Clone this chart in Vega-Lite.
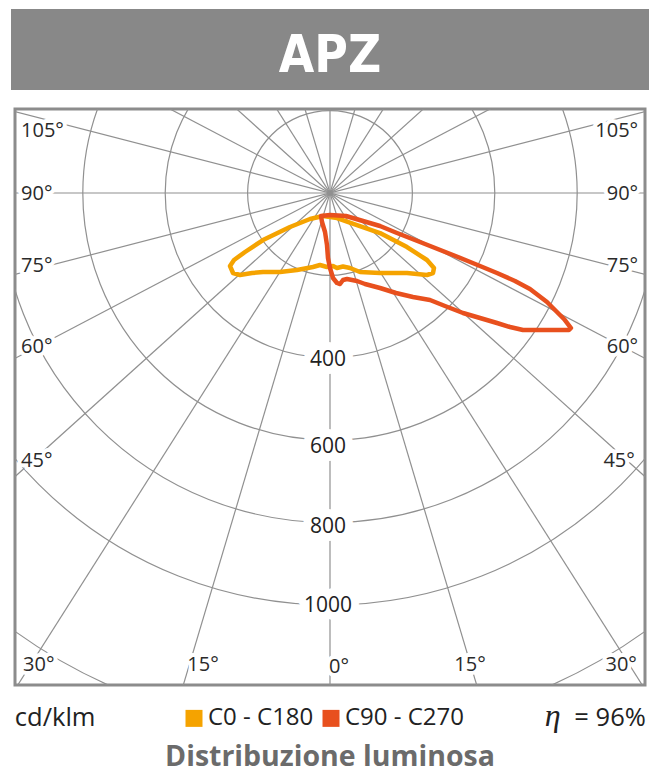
{
  "$schema": "https://vega.github.io/schema/vega-lite/v6.json",
  "background": "white",
  "padding": {"left": 11, "top": 9, "right": 0, "bottom": 0},
  "spacing": 19,
  "bounds": "flush",
  "center": true,
  "config": {"view": {"stroke": null}, "font": "Open Sans"},
  "resolve": {"scale": {"x": "independent", "y": "independent"}},
  "datasets": {
    "circles": [{"r": 200}, {"r": 400}, {"r": 600}, {"r": 800}, {"r": 1000}, {"r": 1310}],
    "rays": [
      {"x": 0, "y": -1500, "x2": 0, "y2": 1500},
      {"x": -1500, "y": 0, "x2": 1500, "y2": 0},
      {"x": 428.6, "y": -1437.5, "x2": -428.6, "y2": 1437.5},
      {"x": -428.6, "y": -1437.5, "x2": 428.6, "y2": 1437.5},
      {"x": 803.7, "y": -1266.5, "x2": -803.7, "y2": 1266.5},
      {"x": -803.7, "y": -1266.5, "x2": 803.7, "y2": 1266.5},
      {"x": 1114.7, "y": -1003.7, "x2": -1114.7, "y2": 1003.7},
      {"x": -1114.7, "y": -1003.7, "x2": 1114.7, "y2": 1003.7},
      {"x": 1328.1, "y": -697.2, "x2": -1328.1, "y2": 697.2},
      {"x": -1328.1, "y": -697.2, "x2": 1328.1, "y2": 697.2},
      {"x": 1452.2, "y": -375.6, "x2": -1452.2, "y2": 375.6},
      {"x": -1452.2, "y": -375.6, "x2": 1452.2, "y2": 375.6}
    ],
    "leftLabels": [
      {"label": "105°", "x": -750, "y": 149.3},
      {"label": "90°", "x": -750, "y": -3.6},
      {"label": "75°", "x": -750, "y": -176.0},
      {"label": "60°", "x": -750, "y": -372.6},
      {"label": "45°", "x": -750, "y": -649.3},
      {"label": "30°", "x": -745, "y": -1144.5}
    ],
    "rightLabels": [
      {"label": "105°", "x": 748, "y": 150.5},
      {"label": "90°", "x": 748, "y": -3.6},
      {"label": "75°", "x": 748, "y": -177.2},
      {"label": "60°", "x": 748, "y": -374.9},
      {"label": "45°", "x": 740, "y": -649.3},
      {"label": "30°", "x": 745, "y": -1144.5}
    ],
    "bottomLabels": [
      {"label": "15°", "x": -308.3, "y": -1144.5},
      {"label": "0°", "x": 21.8, "y": -1151.7},
      {"label": "15°", "x": 339.8, "y": -1144.5}
    ],
    "radiusLabels": [
      {"label": "400", "x": -4.9, "y": -405.3},
      {"label": "600", "x": -4.9, "y": -616.5},
      {"label": "800", "x": -4.9, "y": -810.7},
      {"label": "1000", "x": -4.9, "y": -1002.5}
    ],
    "curves": [
      {"series": "C0 - C180", "i": 0, "x": -17.0, "y": -55.8},
      {"series": "C0 - C180", "i": 1, "x": -48.5, "y": -63.1},
      {"series": "C0 - C180", "i": 2, "x": -97.1, "y": -82.5},
      {"series": "C0 - C180", "i": 3, "x": -162.6, "y": -114.1},
      {"series": "C0 - C180", "i": 4, "x": -206.3, "y": -143.2},
      {"series": "C0 - C180", "i": 5, "x": -233.0, "y": -162.6},
      {"series": "C0 - C180", "i": 6, "x": -242.7, "y": -177.2},
      {"series": "C0 - C180", "i": 7, "x": -235.4, "y": -194.2},
      {"series": "C0 - C180", "i": 8, "x": -218.4, "y": -199.0},
      {"series": "C0 - C180", "i": 9, "x": -189.3, "y": -194.2},
      {"series": "C0 - C180", "i": 10, "x": -162.6, "y": -191.7},
      {"series": "C0 - C180", "i": 11, "x": -121.4, "y": -191.7},
      {"series": "C0 - C180", "i": 12, "x": -80.1, "y": -186.9},
      {"series": "C0 - C180", "i": 13, "x": -41.3, "y": -179.6},
      {"series": "C0 - C180", "i": 14, "x": -24.3, "y": -174.8},
      {"series": "C0 - C180", "i": 15, "x": -7.3, "y": -179.6},
      {"series": "C0 - C180", "i": 16, "x": 7.3, "y": -177.2},
      {"series": "C0 - C180", "i": 17, "x": 17.0, "y": -182.0},
      {"series": "C0 - C180", "i": 18, "x": 31.6, "y": -178.4},
      {"series": "C0 - C180", "i": 19, "x": 48.5, "y": -182.0},
      {"series": "C0 - C180", "i": 20, "x": 72.8, "y": -191.7},
      {"series": "C0 - C180", "i": 21, "x": 121.4, "y": -194.2},
      {"series": "C0 - C180", "i": 22, "x": 186.9, "y": -194.2},
      {"series": "C0 - C180", "i": 23, "x": 235.4, "y": -199.0},
      {"series": "C0 - C180", "i": 24, "x": 250.0, "y": -194.2},
      {"series": "C0 - C180", "i": 25, "x": 252.4, "y": -182.0},
      {"series": "C0 - C180", "i": 26, "x": 235.4, "y": -162.6},
      {"series": "C0 - C180", "i": 27, "x": 186.9, "y": -131.1},
      {"series": "C0 - C180", "i": 28, "x": 121.4, "y": -97.1},
      {"series": "C0 - C180", "i": 29, "x": 65.5, "y": -77.7},
      {"series": "C0 - C180", "i": 30, "x": 17.0, "y": -60.7},
      {"series": "C0 - C180", "i": 31, "x": -17.0, "y": -55.8},
      {"series": "C90 - C270", "i": 0, "x": -21.8, "y": -55.8},
      {"series": "C90 - C270", "i": 1, "x": 0, "y": -53.4},
      {"series": "C90 - C270", "i": 2, "x": 38.8, "y": -55.8},
      {"series": "C90 - C270", "i": 3, "x": 80.1, "y": -68.0},
      {"series": "C90 - C270", "i": 4, "x": 121.4, "y": -80.1},
      {"series": "C90 - C270", "i": 5, "x": 162.6, "y": -97.1},
      {"series": "C90 - C270", "i": 6, "x": 218.4, "y": -118.9},
      {"series": "C90 - C270", "i": 7, "x": 298.5, "y": -150.5},
      {"series": "C90 - C270", "i": 8, "x": 364.1, "y": -177.2},
      {"series": "C90 - C270", "i": 9, "x": 405.3, "y": -194.2},
      {"series": "C90 - C270", "i": 10, "x": 449.0, "y": -213.6},
      {"series": "C90 - C270", "i": 11, "x": 485.4, "y": -233.0},
      {"series": "C90 - C270", "i": 12, "x": 526.7, "y": -264.6},
      {"series": "C90 - C270", "i": 13, "x": 548.5, "y": -286.4},
      {"series": "C90 - C270", "i": 14, "x": 567.9, "y": -305.8},
      {"series": "C90 - C270", "i": 15, "x": 584.9, "y": -327.7},
      {"series": "C90 - C270", "i": 16, "x": 580.1, "y": -332.5},
      {"series": "C90 - C270", "i": 17, "x": 526.7, "y": -332.5},
      {"series": "C90 - C270", "i": 18, "x": 468.4, "y": -332.5},
      {"series": "C90 - C270", "i": 19, "x": 436.9, "y": -325.2},
      {"series": "C90 - C270", "i": 20, "x": 405.3, "y": -315.5},
      {"series": "C90 - C270", "i": 21, "x": 364.1, "y": -303.4},
      {"series": "C90 - C270", "i": 22, "x": 322.8, "y": -291.2},
      {"series": "C90 - C270", "i": 23, "x": 279.1, "y": -274.3},
      {"series": "C90 - C270", "i": 24, "x": 242.7, "y": -259.7},
      {"series": "C90 - C270", "i": 25, "x": 201.4, "y": -252.4},
      {"series": "C90 - C270", "i": 26, "x": 160.2, "y": -242.7},
      {"series": "C90 - C270", "i": 27, "x": 121.4, "y": -230.6},
      {"series": "C90 - C270", "i": 28, "x": 84.9, "y": -220.9},
      {"series": "C90 - C270", "i": 29, "x": 65.5, "y": -213.6},
      {"series": "C90 - C270", "i": 30, "x": 41.3, "y": -208.7},
      {"series": "C90 - C270", "i": 31, "x": 31.6, "y": -211.2},
      {"series": "C90 - C270", "i": 32, "x": 24.3, "y": -220.9},
      {"series": "C90 - C270", "i": 33, "x": 17.0, "y": -218.4},
      {"series": "C90 - C270", "i": 34, "x": 7.3, "y": -206.3},
      {"series": "C90 - C270", "i": 35, "x": 0, "y": -182.0},
      {"series": "C90 - C270", "i": 36, "x": -4.9, "y": -157.8},
      {"series": "C90 - C270", "i": 37, "x": -7.3, "y": -126.2},
      {"series": "C90 - C270", "i": 38, "x": -12.1, "y": -94.7},
      {"series": "C90 - C270", "i": 39, "x": -19.4, "y": -70.4},
      {"series": "C90 - C270", "i": 40, "x": -21.8, "y": -55.8}
    ]
  },
  "vconcat": [
    {
      "width": 638,
      "height": 81,
      "view": {"fill": "#888888", "stroke": null},
      "data": {"values": [{"title": "APZ"}]},
      "mark": {"type": "text", "font": "DejaVu Sans Condensed", "fontWeight": "bold", "fontSize": 51, "color": "white", "baseline": "alphabetic", "align": "center"},
      "encoding": {
        "text": {"field": "title"},
        "x": {"datum": 0.5, "type": "quantitative", "scale": {"domain": [0, 1]}, "axis": null},
        "y": {"datum": 0.778, "type": "quantitative", "scale": {"domain": [0, 1], "reverse": true}, "axis": null}
      }
    },
    {
      "width": 630,
      "height": 576,
      "view": {"stroke": "#8c8c8c", "strokeWidth": 3},
      "layer": [
        {
          "data": {"name": "circles"},
          "mark": {"type": "arc", "theta": 0, "theta2": 6.2832, "filled": false, "stroke": "#909090", "strokeWidth": 1.2, "clip": true},
          "encoding": {
            "x": {"datum": 0, "type": "quantitative", "scale": {"domain": [-764.6, 764.6], "nice": false, "zero": false}, "axis": null},
            "y": {"datum": 0, "type": "quantitative", "scale": {"domain": [-1194.2, 203.9], "nice": false, "zero": false}, "axis": null},
            "radius": {"field": "r", "type": "quantitative", "stack": null, "scale": {"type": "linear", "domain": [0, 1000], "range": [0, 411.98], "zero": true}, "legend": null}
          }
        },
        {
          "data": {"name": "rays"},
          "mark": {"type": "rule", "stroke": "#909090", "strokeWidth": 1.2, "clip": true},
          "encoding": {
            "x": {"field": "x", "type": "quantitative", "scale": {"domain": [-764.6, 764.6], "nice": false, "zero": false}, "axis": null},
            "y": {"field": "y", "type": "quantitative", "scale": {"domain": [-1194.2, 203.9], "nice": false, "zero": false}, "axis": null},
            "x2": {"field": "x2"},
            "y2": {"field": "y2"}
          }
        },
        {
          "data": {"name": "leftLabels"},
          "mark": {"type": "text", "align": "left", "baseline": "middle", "fontSize": 20, "fill": "white", "stroke": "white", "strokeWidth": 8, "strokeJoin": "round"},
          "encoding": {
            "text": {"field": "label"},
            "x": {"field": "x", "type": "quantitative", "scale": {"domain": [-764.6, 764.6], "nice": false, "zero": false}, "axis": null},
            "y": {"field": "y", "type": "quantitative", "scale": {"domain": [-1194.2, 203.9], "nice": false, "zero": false}, "axis": null}
          }
        },
        {
          "data": {"name": "leftLabels"},
          "mark": {"type": "text", "align": "left", "baseline": "middle", "fontSize": 20, "fill": "#2a2a2a"},
          "encoding": {
            "text": {"field": "label"},
            "x": {"field": "x", "type": "quantitative", "scale": {"domain": [-764.6, 764.6], "nice": false, "zero": false}, "axis": null},
            "y": {"field": "y", "type": "quantitative", "scale": {"domain": [-1194.2, 203.9], "nice": false, "zero": false}, "axis": null}
          }
        },
        {
          "data": {"name": "rightLabels"},
          "mark": {"type": "text", "align": "right", "baseline": "middle", "fontSize": 20, "fill": "white", "stroke": "white", "strokeWidth": 8, "strokeJoin": "round"},
          "encoding": {
            "text": {"field": "label"},
            "x": {"field": "x", "type": "quantitative", "scale": {"domain": [-764.6, 764.6], "nice": false, "zero": false}, "axis": null},
            "y": {"field": "y", "type": "quantitative", "scale": {"domain": [-1194.2, 203.9], "nice": false, "zero": false}, "axis": null}
          }
        },
        {
          "data": {"name": "rightLabels"},
          "mark": {"type": "text", "align": "right", "baseline": "middle", "fontSize": 20, "fill": "#2a2a2a"},
          "encoding": {
            "text": {"field": "label"},
            "x": {"field": "x", "type": "quantitative", "scale": {"domain": [-764.6, 764.6], "nice": false, "zero": false}, "axis": null},
            "y": {"field": "y", "type": "quantitative", "scale": {"domain": [-1194.2, 203.9], "nice": false, "zero": false}, "axis": null}
          }
        },
        {
          "data": {"name": "bottomLabels"},
          "mark": {"type": "text", "align": "center", "baseline": "middle", "fontSize": 20, "fill": "white", "stroke": "white", "strokeWidth": 8, "strokeJoin": "round"},
          "encoding": {
            "text": {"field": "label"},
            "x": {"field": "x", "type": "quantitative", "scale": {"domain": [-764.6, 764.6], "nice": false, "zero": false}, "axis": null},
            "y": {"field": "y", "type": "quantitative", "scale": {"domain": [-1194.2, 203.9], "nice": false, "zero": false}, "axis": null}
          }
        },
        {
          "data": {"name": "bottomLabels"},
          "mark": {"type": "text", "align": "center", "baseline": "middle", "fontSize": 20, "fill": "#2a2a2a"},
          "encoding": {
            "text": {"field": "label"},
            "x": {"field": "x", "type": "quantitative", "scale": {"domain": [-764.6, 764.6], "nice": false, "zero": false}, "axis": null},
            "y": {"field": "y", "type": "quantitative", "scale": {"domain": [-1194.2, 203.9], "nice": false, "zero": false}, "axis": null}
          }
        },
        {
          "data": {"name": "radiusLabels"},
          "mark": {"type": "text", "align": "center", "baseline": "middle", "fontSize": 21, "fill": "white", "stroke": "white", "strokeWidth": 16, "strokeJoin": "round"},
          "encoding": {
            "text": {"field": "label"},
            "x": {"field": "x", "type": "quantitative", "scale": {"domain": [-764.6, 764.6], "nice": false, "zero": false}, "axis": null},
            "y": {"field": "y", "type": "quantitative", "scale": {"domain": [-1194.2, 203.9], "nice": false, "zero": false}, "axis": null}
          }
        },
        {
          "data": {"name": "radiusLabels"},
          "mark": {"type": "text", "align": "center", "baseline": "middle", "fontSize": 21, "fill": "#222222"},
          "encoding": {
            "text": {"field": "label"},
            "x": {"field": "x", "type": "quantitative", "scale": {"domain": [-764.6, 764.6], "nice": false, "zero": false}, "axis": null},
            "y": {"field": "y", "type": "quantitative", "scale": {"domain": [-1194.2, 203.9], "nice": false, "zero": false}, "axis": null}
          }
        },
        {
          "data": {"name": "curves"},
          "mark": {"type": "line", "strokeWidth": 4.5, "strokeJoin": "round", "strokeCap": "round", "clip": true},
          "encoding": {
            "x": {"field": "x", "type": "quantitative", "scale": {"domain": [-764.6, 764.6], "nice": false, "zero": false}, "axis": null},
            "y": {"field": "y", "type": "quantitative", "scale": {"domain": [-1194.2, 203.9], "nice": false, "zero": false}, "axis": null},
            "order": {"field": "i", "type": "quantitative"},
            "color": {
              "field": "series",
              "type": "nominal",
              "scale": {"domain": ["C0 - C180", "C90 - C270"], "range": ["#F5A300", "#E8501E"]},
              "legend": {
                "orient": "none",
                "legendX": 171,
                "legendY": 697,
                "direction": "horizontal",
                "title": null,
                "symbolType": "square",
                "symbolSize": 72.25,
                "symbolStrokeWidth": 8.5,
                "symbolOpacity": 1,
                "labelFont": "Open Sans",
                "labelFontSize": 24,
                "labelColor": "#222222",
                "labelOffset": 2,
                "columnPadding": -5,
                "padding": 0
              }
            }
          }
        }
      ]
    },
    {
      "width": 638,
      "height": 70,
      "layer": [
        {
          "data": {"values": [{"t": "cd/klm"}]},
          "mark": {"type": "text", "align": "left", "baseline": "alphabetic", "fontSize": 25.5, "font": "Open Sans", "color": "#222222"},
          "encoding": {
            "text": {"field": "t"},
            "x": {"datum": 0.006, "type": "quantitative", "scale": {"domain": [0, 1]}, "axis": null},
            "y": {"datum": 0.314, "type": "quantitative", "scale": {"domain": [0, 1], "reverse": true}, "axis": null}
          }
        },
        {
          "data": {"values": [{"t": "η"}]},
          "mark": {"type": "text", "align": "center", "baseline": "alphabetic", "fontSize": 32, "font": "Liberation Serif", "fontStyle": "italic", "color": "#222222"},
          "encoding": {
            "text": {"field": "t"},
            "x": {"datum": 0.849, "type": "quantitative", "scale": {"domain": [0, 1]}, "axis": null},
            "y": {"datum": 0.314, "type": "quantitative", "scale": {"domain": [0, 1], "reverse": true}, "axis": null}
          }
        },
        {
          "data": {"values": [{"t": "= 96%"}]},
          "mark": {"type": "text", "align": "right", "baseline": "alphabetic", "fontSize": 25.5, "font": "Open Sans", "color": "#222222"},
          "encoding": {
            "text": {"field": "t"},
            "x": {"datum": 0.995, "type": "quantitative", "scale": {"domain": [0, 1]}, "axis": null},
            "y": {"datum": 0.314, "type": "quantitative", "scale": {"domain": [0, 1], "reverse": true}, "axis": null}
          }
        },
        {
          "data": {"values": [{"t": "Distribuzione luminosa"}]},
          "mark": {"type": "text", "align": "center", "baseline": "alphabetic", "fontSize": 28.5, "font": "Open Sans", "fontWeight": "bold", "color": "#6b6b6b"},
          "encoding": {
            "text": {"field": "t"},
            "x": {"datum": 0.5, "type": "quantitative", "scale": {"domain": [0, 1]}, "axis": null},
            "y": {"datum": 0.886, "type": "quantitative", "scale": {"domain": [0, 1], "reverse": true}, "axis": null}
          }
        }
      ]
    }
  ]
}
